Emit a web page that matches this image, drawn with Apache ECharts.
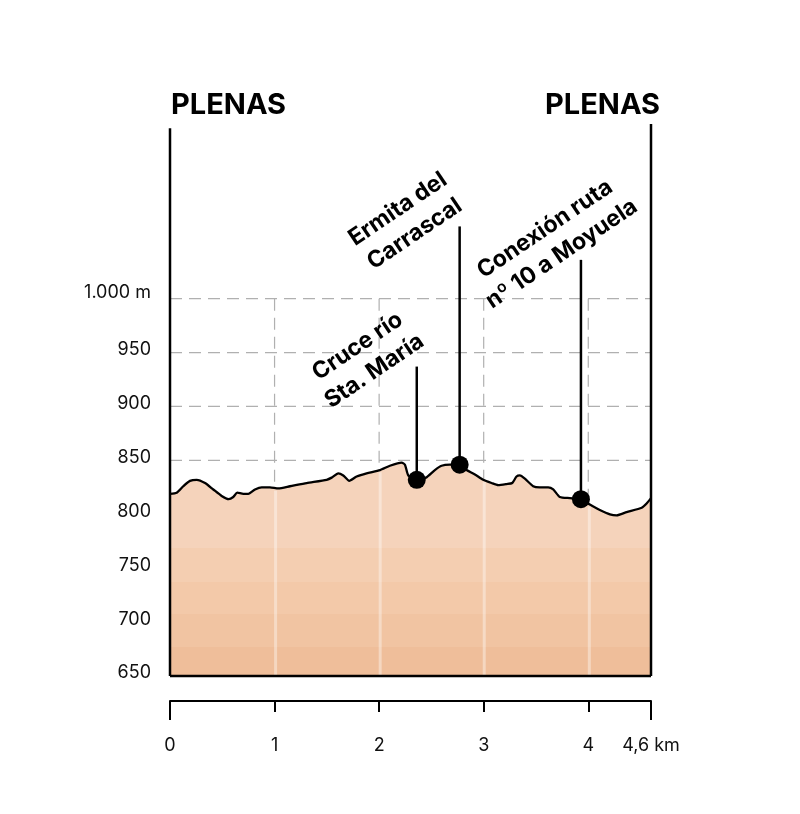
<!DOCTYPE html>
<html>
<head>
<meta charset="utf-8">
<style>html,body{margin:0;padding:0;background:#fff}#container{width:800px;height:814px}</style>
<script src="https://cdn.jsdelivr.net/npm/echarts@6/dist/echarts.min.js"></script>
</head>
<body>
<div id="container"></div>
<script>
var profileKm = [0, 0.064, 0.127, 0.191, 0.255, 0.335, 0.414, 0.494, 0.561, 0.605, 0.643, 0.701, 0.749, 0.813, 0.877, 0.956, 1.036, 1.147, 1.307, 1.498, 1.546, 1.609, 1.657, 1.714, 1.785, 1.88, 2.008, 2.103, 2.215, 2.247, 2.279, 2.358, 2.447, 2.533, 2.597, 2.677, 2.766, 2.836, 2.916, 2.996, 3.075, 3.139, 3.219, 3.273, 3.314, 3.346, 3.394, 3.473, 3.537, 3.617, 3.665, 3.728, 3.824, 3.929, 4.015, 4.111, 4.207, 4.271, 4.367, 4.511, 4.558, 4.6];
var profileElev = [819, 820, 826, 831, 832, 829, 823, 817, 814, 816, 820, 819, 819, 823, 825, 825, 824, 826, 829, 832, 834, 838, 836, 831, 835, 838, 841, 845, 848, 846, 836, 832, 834, 841, 845, 846, 846, 841, 837, 832, 829, 827, 828, 829, 835, 836, 833, 826, 825, 825, 823, 816, 815, 814, 809, 804, 800, 799, 802, 806, 810, 815];

var placeNames = ["Cruce río\nSta. María", "Ermita del\nCarrascal", "Conexión ruta\nnº 10 a Moyuela"];
var placeKm = [2.36, 2.77, 3.93];
var placeElev = [832, 846, 814];
var stemTopElev = [937, 1067, 1036];

var elevTicks = [650, 700, 750, 800, 850, 900, 950, 1000];
var gridElevs = [850, 900, 950, 1000];
var kmTicks = [0, 1, 2, 3, 4, 4.6];
var gridKms = [1, 2, 3, 4];
var paleKms = [1.01, 2.01, 3.005, 4.01];
var paleTopElev = [822, 839, 830, 807];

var startEnd = "PLENAS";

var font = "Inter";

function plainLine(points, style, z) {
  return {
    type: "line",
    data: points,
    showSymbol: false,
    silent: true,
    clip: false,
    z: z,
    lineStyle: style
  };
}

var series = [];

// dashed grid, under the area
gridElevs.forEach(function (e) {
  series.push(plainLine([[0, e], [4.6, e]], { color: "#b0b0b0", width: 1.2, type: [12, 7] }, 1));
});
gridKms.forEach(function (k) {
  series.push(plainLine([[k, 1000], [k, 650]], { color: "#b0b0b0", width: 1.2, type: [12, 7] }, 1));
});

// profile
series.push({
  type: "line",
  data: profileKm.map(function (k, i) { return [k, profileElev[i]]; }),
  showSymbol: false,
  smooth: 0.2,
  silent: true,
  z: 3,
  lineStyle: { color: "#000", width: 2.3 },
  areaStyle: {
    opacity: 1,
    color: {
      type: "linear",
      global: true,
      x: 0, y: 480, x2: 0, y2: 676,
      colorStops: [
        { offset: 0, color: "#F5D3BB" },
        { offset: 0.347, color: "#F5D3BB" },
        { offset: 0.347, color: "#F4CEB1" },
        { offset: 0.52, color: "#F4CEB1" },
        { offset: 0.52, color: "#F3C9A9" },
        { offset: 0.684, color: "#F3C9A9" },
        { offset: 0.684, color: "#F1C4A2" },
        { offset: 0.852, color: "#F1C4A2" },
        { offset: 0.852, color: "#EFBE9A" },
        { offset: 1, color: "#EFBE9A" }
      ]
    }
  }
});

// pale km lines on the area
paleKms.forEach(function (k, i) {
  series.push(plainLine([[k, 650], [k, paleTopElev[i]]], { color: "rgba(255,255,255,0.38)", width: 3 }, 4));
});

// frame
series.push(plainLine([[0, 650], [0, 1158]], { color: "#000", width: 2.5 }, 5));
series.push(plainLine([[4.6, 650], [4.6, 1162]], { color: "#000", width: 2.5 }, 5));
series.push(plainLine([[0, 650], [4.6, 650]], { color: "#000", width: 2.5 }, 5));

// stems and dots
placeKm.forEach(function (k, i) {
  series.push(plainLine([[k, placeElev[i]], [k, stemTopElev[i]]], { color: "#000", width: 2.5 }, 6));
});
series.push({
  type: "scatter",
  data: placeKm.map(function (k, i) { return [k, placeElev[i]]; }),
  symbolSize: 18,
  silent: true,
  z: 7,
  itemStyle: { color: "#000", opacity: 1 }
});

// offsets are in the rotated frame of the text
var labelOffsets = [[-37.7, -35.1], [-41.5, -34], [-12.6, -30.8]];
series.push({
  type: "scatter",
  data: placeKm.map(function (k, i) {
    return {
      value: [k, stemTopElev[i]],
      label: { formatter: placeNames[i], offset: labelOffsets[i] }
    };
  }),
  symbolSize: 0,
  silent: true,
  z: 8,
  itemStyle: { opacity: 1 },
  label: {
    show: true,
    position: "inside",
    rotate: 34,
    align: "center",
    verticalAlign: "middle",
    fontFamily: font,
    fontWeight: 700,
    fontSize: 23,
    lineHeight: 30,
    color: "#000",
    opacity: 1
  }
});

var dom = document.getElementById("container");
var myChart = echarts.init(dom, null, { renderer: "canvas" });

var option = {
  animation: false,
  backgroundColor: "#fff",
  title: [
    { text: startEnd, left: 171, top: 91, padding: 0, textStyle: { fontFamily: font, fontWeight: 700, fontSize: 29, color: "#000" } },
    { text: startEnd, left: 545, top: 91, padding: 0, textStyle: { fontFamily: font, fontWeight: 700, fontSize: 29, color: "#000" } }
  ],
  grid: { left: 170, right: 149, top: 124, bottom: 138 },
  xAxis: [
    {
      type: "value",
      position: "bottom",
      min: 0,
      max: 4.6,
      offset: 25,
      splitLine: { show: false },
      axisLine: { show: true, onZero: false, lineStyle: { color: "#000", width: 2 } },
      axisTick: { show: true, length: 11, customValues: kmTicks, lineStyle: { color: "#000", width: 2 } },
      axisLabel: {
        customValues: kmTicks,
        margin: 36,
        fontFamily: font,
        fontSize: 18,
        color: "#111",
        hideOverlap: false,
        showMinLabel: true,
        showMaxLabel: true,
        formatter: function (v) { return v === 4.6 ? "4,6 km" : String(v); }
      }
    },
    {
      type: "value",
      position: "bottom",
      min: 0,
      max: 4.6,
      offset: 25,
      splitLine: { show: false },
      axisLine: { show: false, onZero: false },
      axisTick: { show: true, length: 19, customValues: [0, 4.6], lineStyle: { color: "#000", width: 2 } },
      axisLabel: { show: false }
    }
  ],
  yAxis: {
    type: "value",
    min: 650,
    max: 1162,
    splitLine: { show: false },
    axisLine: { show: false },
    axisTick: { show: false },
    axisLabel: {
      customValues: elevTicks,
      margin: 19,
      verticalAlign: "bottom",
      lineHeight: 6,
      fontFamily: font,
      fontSize: 18,
      color: "#111",
      rich: { top: { lineHeight: 12, fontFamily: font, fontSize: 18, color: "#111" } },
      formatter: function (v) { return v === 1000 ? "{top|1.000 m}" : String(v); }
    }
  },
  series: series
};

myChart.setOption(option);

window.addEventListener("resize", myChart.resize);
</script>
</body>
</html>
